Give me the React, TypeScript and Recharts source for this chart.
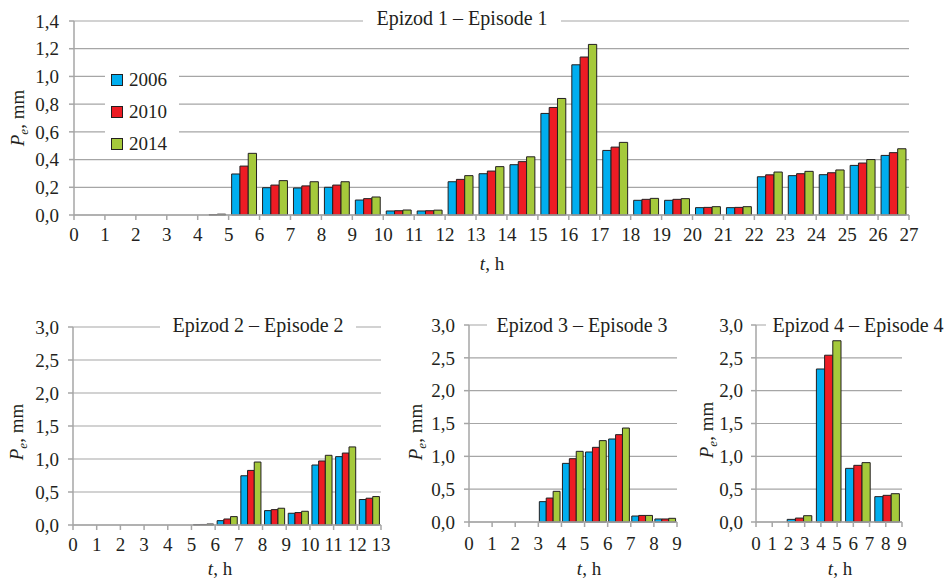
import { BarChart, Bar, XAxis, YAxis, CartesianGrid, Legend, Label } from 'recharts'

const SERIES = ['2006', '2010', '2014']
const COLORS = ['#00aeef', '#ed1c24', '#a5c93b']
const EDGE = '#231f20'
const GRID = '#a6a6a6'
const FONT = 'Liberation Serif'

// Epizod 1 – hourly intervals 0-1 ... 26-27 (bar at the middle of the interval)
const ep1T = [0.5, 1.5, 2.5, 3.5, 4.5, 5.5, 6.5, 7.5, 8.5, 9.5, 10.5, 11.5, 12.5, 13.5, 14.5, 15.5, 16.5, 17.5, 18.5, 19.5, 20.5, 21.5, 22.5, 23.5, 24.5, 25.5, 26.5]
const ep1_2006 = [0, 0, 0, 0, 0, 0.296, 0.197, 0.195, 0.2, 0.108, 0.029, 0.029, 0.24, 0.298, 0.363, 0.733, 1.084, 0.466, 0.106, 0.106, 0.053, 0.053, 0.276, 0.284, 0.291, 0.358, 0.43]
const ep1_2010 = [0, 0, 0, 0, 0.002, 0.353, 0.216, 0.21, 0.216, 0.118, 0.031, 0.031, 0.257, 0.317, 0.385, 0.776, 1.14, 0.49, 0.113, 0.113, 0.055, 0.055, 0.29, 0.298, 0.305, 0.375, 0.45]
const ep1_2014 = [0, 0, 0, 0, 0.006, 0.445, 0.248, 0.24, 0.24, 0.13, 0.036, 0.035, 0.284, 0.349, 0.42, 0.841, 1.231, 0.524, 0.12, 0.118, 0.06, 0.06, 0.31, 0.315, 0.325, 0.4, 0.478]
const ep1XTicks = [0, 1, 2, 3, 4, 5, 6, 7, 8, 9, 10, 11, 12, 13, 14, 15, 16, 17, 18, 19, 20, 21, 22, 23, 24, 25, 26, 27]
const ep1YTicks = [0, 0.2, 0.4, 0.6, 0.8, 1.0, 1.2, 1.4]

// Epizod 2
const ep2T = [0.5, 1.5, 2.5, 3.5, 4.5, 5.5, 6.5, 7.5, 8.5, 9.5, 10.5, 11.5, 12.5]
const ep2_2006 = [0, 0, 0, 0, 0, 0.005, 0.066, 0.746, 0.218, 0.178, 0.909, 1.036, 0.386]
const ep2_2010 = [0, 0, 0, 0, 0, 0.008, 0.091, 0.827, 0.233, 0.188, 0.97, 1.09, 0.406]
const ep2_2014 = [0, 0, 0, 0, 0, 0.015, 0.127, 0.954, 0.254, 0.208, 1.056, 1.183, 0.431]
const ep2XTicks = [0, 1, 2, 3, 4, 5, 6, 7, 8, 9, 10, 11, 12, 13]

// Epizod 3
const ep3T = [0.5, 1.5, 2.5, 3.5, 4.5, 5.5, 6.5, 7.5, 8.5]
const ep3_2006 = [0, 0, 0, 0.31, 0.893, 1.066, 1.264, 0.091, 0.046]
const ep3_2010 = [0, 0, 0, 0.365, 0.964, 1.137, 1.33, 0.1, 0.046]
const ep3_2014 = [0, 0, 0, 0.467, 1.076, 1.239, 1.431, 0.1, 0.056]

// Epizod 4 – five groups over 0-9 h
const ep4T = [0.9, 2.7, 4.5, 6.3, 8.1]
const ep4_2006 = [0, 0.04, 2.33, 0.817, 0.386]
const ep4_2010 = [0, 0.06, 2.54, 0.863, 0.406]
const ep4_2014 = [0, 0.096, 2.76, 0.904, 0.431]

const nineTicks = [0, 1, 2, 3, 4, 5, 6, 7, 8, 9]
const bottomYTicks = [0, 0.5, 1.0, 1.5, 2.0, 2.5, 3.0]

const rows = (t: number[], a: number[], b: number[], c: number[]) =>
  t.map((v, i) => ({ t: v, [SERIES[0]]: a[i], [SERIES[1]]: b[i], [SERIES[2]]: c[i] }))

const comma = (v: number) => v.toFixed(1).replace('.', ',')

const tickStyle = { fontSize: 19, fill: EDGE, fontFamily: FONT }

function LegendBox(props: any) {
  const items = props.payload || []
  return (
    <div style={{ background: '#fff', width: 74, height: 92, fontFamily: FONT, fontSize: 19, color: EDGE }}>
      {items.map((p: any, i: number) => (
        <div key={p.value} style={{ height: 32, display: 'flex', alignItems: 'center' }}>
          <span
            style={{
              display: 'inline-block',
              width: 10,
              height: 10,
              marginLeft: 6,
              marginRight: 6,
              background: COLORS[i],
              border: `1px solid ${EDGE}`,
            }}
          />
          <span>{p.value}</span>
        </div>
      ))}
    </div>
  )
}

interface PanelProps {
  data: any[]
  width: number
  height: number
  margin: { top: number; right: number; bottom: number; left: number }
  yAxisWidth: number
  xMax: number
  xTicks: number[]
  yMax: number
  yTicks: number[]
  barSize: number
  yLabel: { x: number; y: number }
  xLabel: { x: number; y: number }
  xTickMargin: number
  yTickMargin: number
  legend?: boolean
}

function Panel(p: PanelProps) {
  return (
    <BarChart width={p.width} height={p.height} data={p.data} margin={p.margin} barGap={0}>
      <CartesianGrid vertical={false} stroke={GRID} strokeWidth={1.2} />
      <XAxis
        dataKey="t"
        type="number"
        domain={[0, p.xMax]}
        ticks={p.xTicks}
        interval={0}
        height={30}
        tick={tickStyle}
        tickSize={5}
        tickMargin={p.xTickMargin}
        axisLine={{ stroke: GRID, strokeWidth: 1.5 }}
        tickLine={{ stroke: GRID, strokeWidth: 1.5 }}
      >
        <Label
          content={() => (
            <text x={p.xLabel.x} y={p.xLabel.y} textAnchor="middle" fontFamily={FONT} fontSize={19} fill={EDGE}>
              <tspan fontStyle="italic">t</tspan>
              <tspan>, h</tspan>
            </text>
          )}
        />
      </XAxis>
      <YAxis
        type="number"
        domain={[0, p.yMax]}
        ticks={p.yTicks}
        width={p.yAxisWidth}
        tickFormatter={comma}
        tick={tickStyle}
        tickSize={5}
        tickMargin={p.yTickMargin}
        axisLine={{ stroke: GRID, strokeWidth: 1.5 }}
        tickLine={{ stroke: GRID, strokeWidth: 1.5 }}
      >
        <Label
          content={() => (
            <text
              x={p.yLabel.x}
              y={p.yLabel.y}
              transform={`rotate(-90 ${p.yLabel.x} ${p.yLabel.y})`}
              textAnchor="middle"
              fontFamily={FONT}
              fontSize={19}
              fill={EDGE}
            >
              <tspan fontStyle="italic">P</tspan>
              <tspan fontStyle="italic" fontSize={13} dy={4}>e</tspan>
              <tspan dy={-4}>, mm</tspan>
            </text>
          )}
        />
      </YAxis>
      {p.legend && (
        <Legend
          layout="vertical"
          align="center"
          verticalAlign="middle"
          wrapperStyle={{ left: 105, top: 64, width: 74, height: 92 }}
          content={(lp: any) => <LegendBox payload={lp.payload} />}
        />
      )}
      {SERIES.map((s, i) => (
        <Bar
          key={s}
          dataKey={s}
          name={s}
          fill={COLORS[i]}
          stroke={EDGE}
          strokeWidth={1}
          barSize={p.barSize}
          isAnimationActive={false}
        />
      ))}
    </BarChart>
  )
}

const titleStyle = {
  position: 'absolute' as const,
  height: 24,
  lineHeight: '24px',
  textAlign: 'center' as const,
  background: '#fff',
  fontFamily: FONT,
  fontSize: 20,
  color: EDGE,
  whiteSpace: 'nowrap' as const,
}

export default function App() {
  return (
    <div style={{ position: 'absolute', left: 0, top: 0, width: 950, height: 578, background: '#fff', fontFamily: FONT }}>
      <div style={{ position: 'absolute', left: 0, top: 0 }}>
        <Panel
          data={rows(ep1T, ep1_2006, ep1_2010, ep1_2014)}
          width={950}
          height={290}
          margin={{ top: 21, right: 41, bottom: 45, left: 0 }}
          yAxisWidth={74}
          xMax={27}
          xTicks={ep1XTicks}
          yMax={1.4}
          yTicks={ep1YTicks}
          barSize={8.3}
          yLabel={{ x: 24, y: 118 }}
          xLabel={{ x: 492, y: 270 }}
          xTickMargin={8}
          yTickMargin={10}
          legend
        />
      </div>
      <div style={{ position: 'absolute', left: 0, top: 290 }}>
        <Panel
          data={rows(ep2T, ep2_2006, ep2_2010, ep2_2014)}
          width={400}
          height={288}
          margin={{ top: 37, right: 19, bottom: 23, left: 0 }}
          yAxisWidth={73}
          xMax={13}
          xTicks={ep2XTicks}
          yMax={3}
          yTicks={bottomYTicks}
          barSize={6.7}
          yLabel={{ x: 23, y: 142 }}
          xLabel={{ x: 220, y: 285 }}
          xTickMargin={8}
          yTickMargin={9}
        />
      </div>
      <div style={{ position: 'absolute', left: 390, top: 290 }}>
        <Panel
          data={rows(ep3T, ep3_2006, ep3_2010, ep3_2014)}
          width={300}
          height={288}
          margin={{ top: 35, right: 13, bottom: 26, left: 0 }}
          yAxisWidth={79}
          xMax={9}
          xTicks={nineTicks}
          yMax={3}
          yTicks={bottomYTicks}
          barSize={6.9}
          yLabel={{ x: 32, y: 142 }}
          xLabel={{ x: 199, y: 285 }}
          xTickMargin={10}
          yTickMargin={9}
        />
      </div>
      <div style={{ position: 'absolute', left: 690, top: 290 }}>
        <Panel
          data={rows(ep4T, ep4_2006, ep4_2010, ep4_2014)}
          width={260}
          height={288}
          margin={{ top: 35, right: 48, bottom: 26, left: 0 }}
          yAxisWidth={66}
          xMax={9}
          xTicks={nineTicks}
          yMax={3}
          yTicks={bottomYTicks}
          barSize={8.2}
          yLabel={{ x: 23, y: 140 }}
          xLabel={{ x: 150, y: 285 }}
          xTickMargin={10}
          yTickMargin={8}
        />
      </div>
      <div style={{ ...titleStyle, left: 363, top: 6, width: 198 }}>Epizod 1 – Episode 1</div>
      <div style={{ ...titleStyle, left: 160, top: 313, width: 196 }}>Epizod 2 – Episode 2</div>
      <div style={{ ...titleStyle, left: 487, top: 313, width: 190 }}>Epizod 3 – Episode 3</div>
      <div style={{ ...titleStyle, left: 766, top: 313, width: 184 }}>Epizod 4 – Episode 4</div>
    </div>
  )
}
